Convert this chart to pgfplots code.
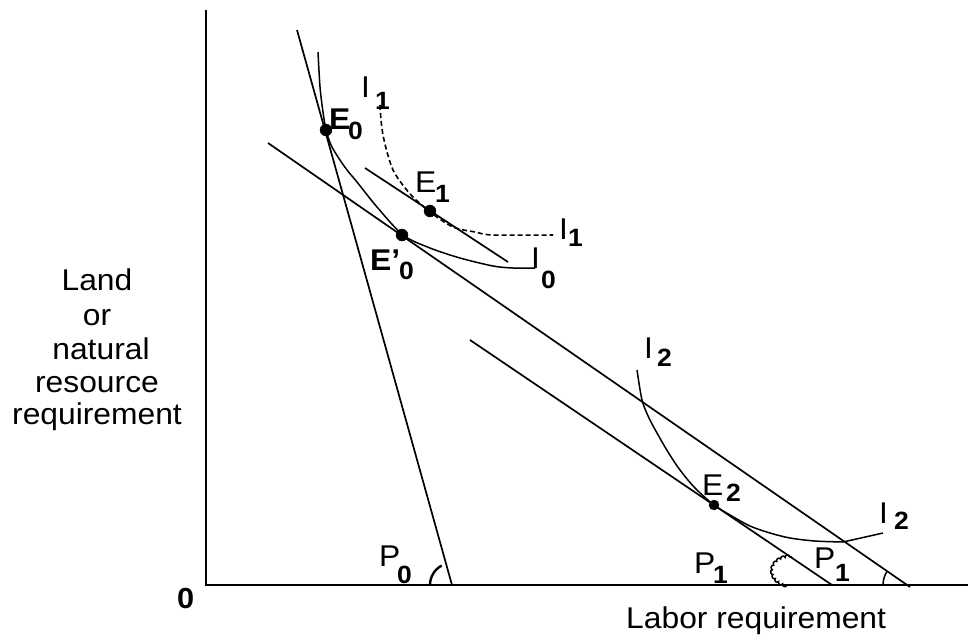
\documentclass[border=0pt]{standalone}
\usepackage{fontspec}
\setmainfont{Liberation Sans}
\usepackage{graphicx}
\usepackage{pgfplots}
\pgfplotsset{compat=1.18}
\usetikzlibrary{decorations.pathmorphing}
\newcommand{\tx}[1]{\scalebox{1.06}[1]{\fontsize{30}{32}\selectfont #1}}
\newcommand{\dg}[1]{\scalebox{1.06}[1]{\fontsize{25}{27}\selectfont\bfseries #1}}
\newcommand{\lab}[3]{\node[anchor=base west, inner sep=0pt] at (axis cs:#1,#2) {\tx{#3}};}
\newcommand{\subn}[3]{\node[anchor=base west, inner sep=0pt] at (axis cs:#1,#2) {\dg{#3}};}
\newcommand{\ylab}[3]{\node[anchor=base, inner sep=0pt] at (axis cs:#1,#2) {\tx{#3}};}
\begin{document}
\begin{tikzpicture}
\begin{axis}[
  width=968pt, height=643pt, scale only axis,
  xmin=0, xmax=968, ymin=0, ymax=643, y dir=reverse,
  hide axis, clip=false]
% axes
\addplot[black, line width=2pt] coordinates {(206,10) (206,585) (968,585)};
% price lines
\addplot[black, line width=1.7pt] coordinates {(297,30) (452,585)};
\addplot[black, line width=1.7pt] coordinates {(268,143) (910,587)};
\addplot[black, line width=1.7pt] coordinates {(365,168) (508,262)};
\addplot[black, line width=1.7pt] coordinates {(470,340) (832,585)};
% isoquants
\addplot[black, line width=1.5pt, smooth] coordinates {(318,52) (320,87) (323,112) (326,130) (331,145) (338,157) (347,170) (357,182) (377,207) (403,235) (430,248) (460,258) (493,266) (513,268) (535,268)};
\addplot[black, line width=1.6pt, smooth, dash pattern=on 5pt off 3pt] coordinates {(380,105) (381,120) (383,135) (387,152) (393,170) (402,184) (413,197) (430,212) (453,227) (475,232) (493,235) (553,235)};
\addplot[black, line width=1.5pt, smooth] coordinates {(637,370) (642,400) (649,418) (657,433) (668,452) (680,470) (695,488) (714,505) (730,515) (750,526) (770,533) (790,538) (815,541) (843,542)};
\addplot[black, line width=1.5pt] coordinates {(843,542) (883,533)};
% equilibrium points
\addplot[only marks, mark=*, mark size=6pt, black] coordinates {(326,130) (430,211) (402,235)};
\addplot[only marks, mark=*, mark size=5pt, black] coordinates {(714,505)};
% angle arcs
\draw[line width=2.4pt] (axis cs:430,585) arc[start angle=180, end angle=118, radius=22pt];
\draw[line width=1.5pt] (axis cs:883,585) arc[start angle=180, end angle=146, radius=25pt];
\draw[line width=1.5pt, decorate, decoration={bumps, segment length=9pt, amplitude=2.4pt}] (axis cs:787,585) .. controls (axis cs:766,579) and (axis cs:770,558) .. (axis cs:791,557);
% labels
\node[anchor=base west, inner sep=0pt] at (axis cs:329,129) {\scalebox{1.06}[1]{\fontsize{30}{32}\selectfont\bfseries E}};
\subn{348}{139}{0}
\lab{415}{192}{E}
\subn{435}{202}{1}
\node[anchor=base west, inner sep=0pt] at (axis cs:370,270) {\scalebox{1.06}[1]{\fontsize{30}{32}\selectfont\bfseries E'}};
\subn{399}{279}{0}
\lab{361}{97}{I}
\subn{375}{109}{1}
\lab{559}{239}{I}
\subn{568}{246}{1}
\lab{531}{268}{I}
\subn{541}{288}{0}
\lab{644}{358}{I}
\subn{657}{366}{2}
\lab{702}{495}{E}
\subn{726}{501}{2}
\lab{879}{523}{I}
\subn{894}{529}{2}
\lab{694}{573}{P}
\subn{713}{583}{1}
\lab{814}{568}{P}
\subn{835}{581}{1}
\lab{379}{566}{P}
\subn{397}{583}{0}
\node[anchor=base west, inner sep=0pt] at (axis cs:177,608) {\scalebox{1.06}[1]{\fontsize{29}{31}\selectfont\bfseries 0}};
\lab{626}{628}{Labor requirement}
\ylab{97}{290}{Land}
\ylab{97}{325}{or}
\ylab{101}{359}{natural}
\ylab{97}{392}{resource}
\ylab{97}{424}{requirement}
\end{axis}
\pgfresetboundingbox
\useasboundingbox (current axis.south west) rectangle (current axis.north east);
\end{tikzpicture}
\end{document}
